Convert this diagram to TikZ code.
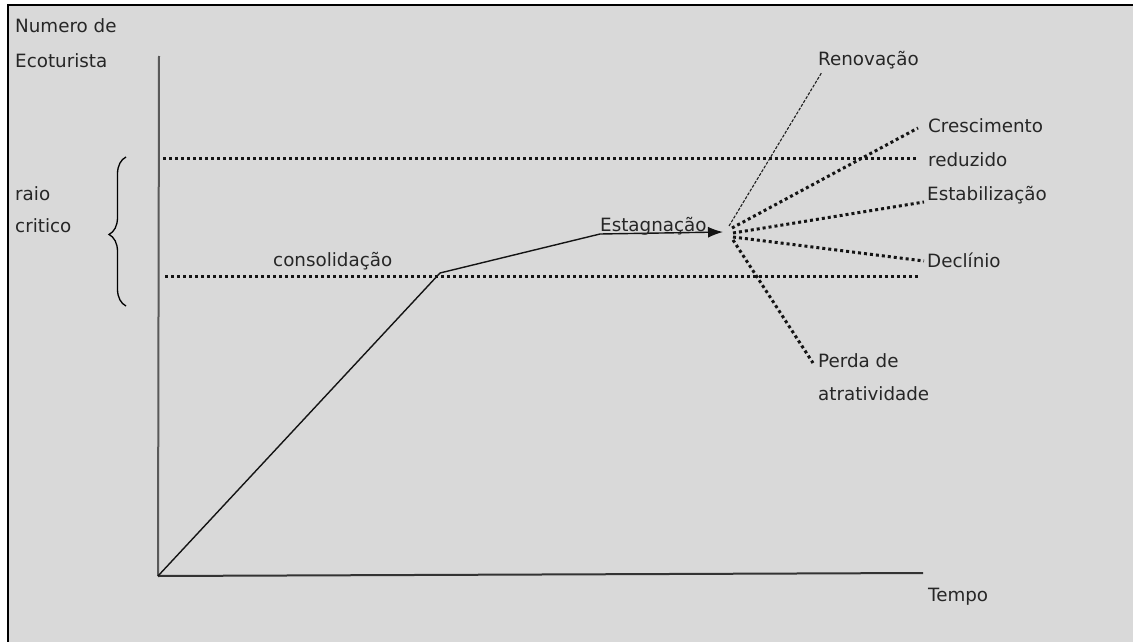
\documentclass[tikz,border=0pt]{standalone}
\usepackage{fontspec}
\setmainfont{DejaVu Sans}
\usetikzlibrary{arrows.meta,decorations.pathreplacing}
\definecolor{panel}{HTML}{D9D9D9}
\definecolor{ink}{HTML}{262626}
\begin{document}
\begin{tikzpicture}[x=1pt,y=-1pt,
  lbl/.style={anchor=base west,inner sep=0pt,text=ink,font=\fontsize{18.3}{22}\selectfont},
  dotline/.style={line width=3pt,dash pattern=on 3pt off 3pt,draw=black!92},
  fine/.style={line width=1.4pt,draw=black!92},
  thindash/.style={line width=1.1pt,dash pattern=on 3pt off 1.5pt,draw=black!88}]
\useasboundingbox (0,0) rectangle (1133,642);
% page and framed panel
\fill[white] (0,0) rectangle (1133,642);
\fill[panel] (8,5) rectangle (1133,642);
\draw[line width=2.6pt] (8,642) -- (8,5) -- (1133,5);

% axes
\coordinate (O) at (158,576);
\coordinate (ytop) at (159,56);
\coordinate (xend) at (923,573);
\draw[line width=2pt,draw=black!65] (O) -- (ytop);
\draw[line width=2pt,draw=black!80] (O) -- (xend);

% limits of the critical range
\coordinate (u1) at (163,158);
\coordinate (u2) at (918,158);
\coordinate (l1) at (165,276);
\coordinate (l2) at (918,276);
\draw[dotline] (u1) -- (u2);
\draw[dotline] (l1) -- (l2);

% brace
\coordinate (b1) at (126,306);
\coordinate (b2) at (126,157);
\draw[line width=1.3pt,decorate,decoration={brace,amplitude=17pt,aspect=0.48}] (b1) -- (b2);

% growth curve
\coordinate (K) at (440,273);
\coordinate (E1) at (600,234);
\coordinate (tip) at (723,232);
\draw[fine,-{Latex[length=15pt,width=11pt]}] (O) -- (K) -- (E1) -- (tip);

% labels
\node[lbl] (num) at (15,33) {Numero de};
\node[lbl] (eco) at (15,67) {Ecoturista};
\node[lbl] (raio) at (15,200) {raio};
\node[lbl] (crit) at (15,232) {critico};
\node[lbl] (cons) at (273,266) {consolidação};
\node[lbl] (estag) at (600,231) {Estagnação};
\node[lbl] (renov) at (818,66) {Renovação};
\node[lbl] (cresc) at (928,132) {Crescimento};
\node[lbl] (red) at (928,166) {reduzido};
\node[lbl] (estab) at (927,200) {Estabilização};
\node[lbl] (decl) at (927,267) {Declínio};
\node[lbl] (perda) at (818,367) {Perda de};
\node[lbl] (atra) at (818,400) {atratividade};
\node[lbl] (tempo) at (928,601) {Tempo};

% scenarios after stagnation
\coordinate (f0) at (729,226);
\coordinate (f1) at (732,228);
\coordinate (f2) at (733,233);
\coordinate (f3) at (733,237);
\coordinate (f4) at (733,240);
\coordinate (rEnd) at (822,72);
\coordinate (cEnd) at (918,128);
\coordinate (sEnd) at (924,202);
\coordinate (dEnd) at (924,261);
\coordinate (pEnd) at (813,363);
\draw[thindash] (f0) -- (rEnd);
\draw[dotline] (f1) -- (cEnd);
\draw[dotline] (f2) -- (sEnd);
\draw[dotline] (f3) -- (dEnd);
\draw[dotline] (f4) -- (pEnd);
\end{tikzpicture}
\end{document}
